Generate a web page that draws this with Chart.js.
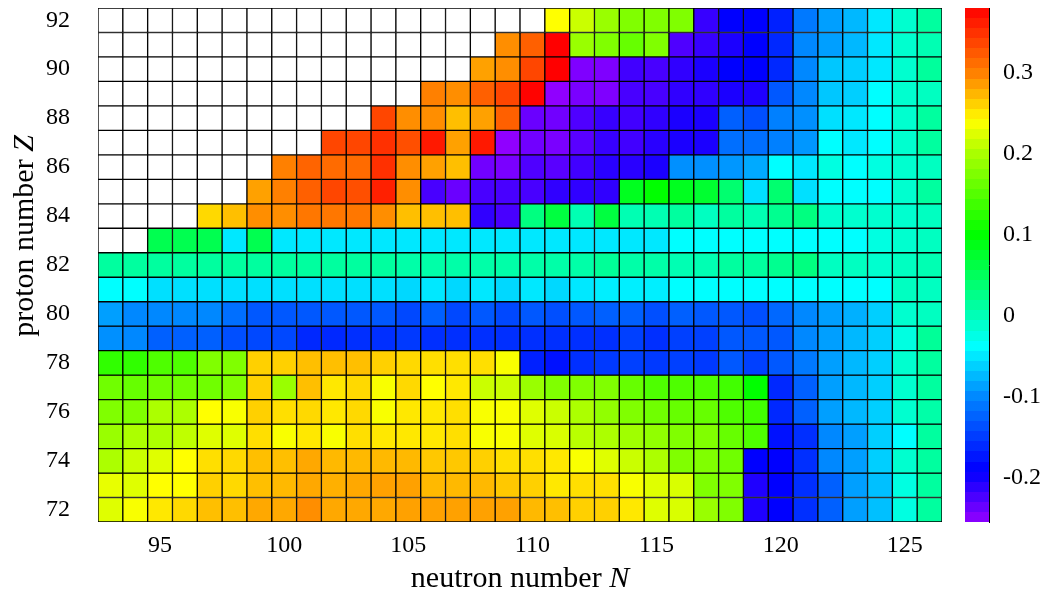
<!DOCTYPE html>
<html>
<head>
<meta charset="utf-8">
<script src="https://cdn.jsdelivr.net/npm/chart.js@4.4.0/dist/chart.umd.min.js"></script>
<style>
  html, body { margin: 0; padding: 0; background: #fff; }
  #wrap { position: relative; width: 1047px; height: 596px; }
  #heat { position: absolute; left: 0; top: 0; }
  #cbar { position: absolute; left: 950px; top: 0; }
</style>
</head>
<body>
<div id="wrap">
  <canvas id="heat" width="1047" height="596"></canvas>
  <canvas id="cbar" width="97" height="596"></canvas>
</div>
<script>
// ─── Data ─────────────────────────────────────────────────
const neutrons = [93, 94, 95, 96, 97, 98, 99, 100, 101, 102, 103, 104, 105, 106, 107, 108, 109,
                  110, 111, 112, 113, 114, 115, 116, 117, 118, 119, 120, 121, 122, 123, 124, 125, 126];
const protons  = [92, 91, 90, 89, 88, 87, 86, 85, 84, 83, 82, 81, 80, 79, 78, 77, 76, 75, 74, 73, 72];

// one row per proton number, columns follow `neutrons` (null = no value)
const z92 = [null, null, null, null, null, null, null, null, null, null,
             null, null, null, null, null, null, null, null, 0.24, 0.215,
             0.19, 0.175, 0.175, 0.175, -0.216, -0.189, -0.189, -0.168, -0.11, -0.088,
             -0.075, -0.05, -0.013, 0.013];
const z91 = [null, null, null, null, null, null, null, null, null, null,
             null, null, null, null, null, null, 0.293, 0.32, 0.38, 0.19,
             0.175, 0.16, 0.175, -0.226, -0.216, -0.204, -0.189, -0.163, -0.10, -0.088,
             -0.075, -0.05, -0.013, 0.002];
const z90 = [null, null, null, null, null, null, null, null, null, null,
             null, null, null, null, null, 0.284, 0.293, 0.336, 0.38, -0.246,
             -0.246, -0.22, -0.223, -0.213, -0.204, -0.189, -0.189, -0.163, -0.10, -0.067,
             -0.063, -0.05, -0.013, 0.015];
const z89 = [null, null, null, null, null, null, null, null, null, null,
             null, null, null, 0.30, 0.293, 0.32, 0.336, 0.378, -0.253, -0.244,
             -0.246, -0.223, -0.223, -0.213, -0.213, -0.204, -0.206, -0.131, -0.10, -0.067,
             -0.063, -0.038, -0.013, -0.005];
const z88 = [null, null, null, null, null, null, null, null, null, null,
             null, 0.336, 0.293, 0.293, 0.27, 0.284, 0.32, -0.237, -0.24, -0.226,
             -0.216, -0.22, -0.213, -0.204, -0.204, -0.126, -0.137, -0.105, -0.096, -0.054,
             -0.05, -0.038, -0.013, 0.013];
const z87 = [null, null, null, null, null, null, null, null, null, 0.336,
             0.336, 0.35, 0.33, 0.364, 0.284, 0.364, -0.253, -0.24, -0.244, -0.23,
             -0.216, -0.22, -0.21, -0.204, -0.204, -0.116, -0.116, -0.105, -0.092, -0.038,
             -0.05, -0.038, -0.013, 0.013];
const z86 = [null, null, null, null, null, null, null, 0.30, 0.317, 0.313,
             0.313, 0.35, 0.293, 0.284, 0.27, -0.24, -0.244, -0.226, -0.23, -0.22,
             -0.21, -0.21, -0.204, -0.096, -0.096, -0.092, -0.082, -0.038, -0.05, -0.022,
             -0.038, -0.022, -0.013, -0.005];
const z85 = [null, null, null, null, null, null, 0.284, 0.30, 0.32, 0.336,
             0.33, 0.36, 0.293, -0.223, -0.237, -0.223, -0.223, -0.223, -0.213, -0.213,
             -0.213, 0.083, 0.10, 0.083, 0.074, 0.039, -0.054, 0.039, -0.054, -0.038,
             -0.038, -0.038, -0.013, 0.013];
const z84 = [null, null, null, null, 0.258, 0.27, 0.293, 0.293, 0.305, 0.305,
             0.305, 0.293, 0.27, 0.27, 0.27, -0.213, -0.223, 0.03, 0.065, 0.002,
             0.065, 0.002, 0.002, 0.013, -0.005, 0.013, 0.002, 0.021, 0.03, -0.013,
             -0.013, -0.013, -0.013, -0.005];
const z83 = [null, null, 0.056, 0.056, 0.056, -0.05, 0.056, -0.05, -0.05, -0.05,
             -0.05, -0.05, -0.05, -0.05, -0.05, -0.05, -0.05, -0.05, -0.05, -0.05,
             -0.05, -0.05, -0.05, -0.038, -0.038, -0.038, -0.038, -0.038, -0.038, -0.038,
             -0.038, -0.022, -0.013, -0.005];
const z82 = [0.013, 0.013, 0.013, 0.013, 0.013, 0.013, 0.013, 0.013, 0.013, 0.013,
             0.013, 0.013, 0.008, 0.008, 0.008, 0.008, 0.008, 0.008, 0.008, 0.008,
             0.017, 0.008, 0.008, 0.002, 0.002, 0.013, 0.013, 0.021, 0.03, -0.005,
             -0.005, -0.013, -0.005, 0.002];
const z81 = [-0.038, -0.038, -0.054, -0.054, -0.054, -0.054, -0.054, -0.054, -0.054, -0.054,
             -0.054, -0.054, -0.058, -0.05, -0.058, -0.05, -0.058, -0.05, -0.058, -0.05,
             -0.046, -0.046, -0.046, -0.038, -0.038, -0.038, -0.038, -0.038, -0.038, -0.038,
             -0.038, -0.038, -0.005, -0.005];
const z80 = [-0.088, -0.10, -0.10, -0.10, -0.10, -0.116, -0.131, -0.131, -0.131, -0.131,
             -0.131, -0.131, -0.142, -0.126, -0.142, -0.131, -0.142, -0.131, -0.137, -0.131,
             -0.126, -0.126, -0.137, -0.126, -0.131, -0.131, -0.137, -0.121, -0.10, -0.088,
             -0.079, -0.063, -0.013, -0.005];
const z79 = [-0.096, -0.10, -0.126, -0.126, -0.126, -0.137, -0.142, -0.142, -0.163, -0.163,
             -0.158, -0.158, -0.152, -0.158, -0.158, -0.158, -0.158, -0.158, -0.158, -0.158,
             -0.158, -0.147, -0.158, -0.147, -0.147, -0.131, -0.131, -0.131, -0.10, -0.088,
             -0.075, -0.063, -0.022, 0.017];
const z78 = [0.128, 0.128, 0.146, 0.146, 0.175, 0.175, 0.262, 0.262, 0.27, 0.27,
             0.27, 0.262, 0.258, 0.255, 0.255, 0.255, 0.237, -0.168, -0.178, -0.158,
             -0.152, -0.147, -0.152, -0.147, -0.152, -0.131, -0.147, -0.131, -0.11, -0.088,
             -0.075, -0.063, -0.013, 0.013];
const z77 = [0.166, 0.16, 0.166, 0.166, 0.166, 0.175, 0.262, 0.19, 0.27, 0.251,
             0.258, 0.237, 0.258, 0.24, 0.251, 0.215, 0.215, 0.19, 0.175, 0.175,
             0.175, 0.16, 0.146, 0.146, 0.146, 0.138, 0.10, -0.163, -0.126, -0.088,
             -0.075, -0.063, -0.013, 0.013];
const z76 = [0.175, 0.175, 0.201, 0.201, 0.24, 0.237, 0.262, 0.255, 0.258, 0.251,
             0.258, 0.237, 0.251, 0.251, 0.255, 0.237, 0.237, 0.225, 0.215, 0.201,
             0.185, 0.175, 0.166, 0.16, 0.16, 0.146, 0.138, -0.163, -0.126, -0.088,
             -0.075, -0.063, -0.013, 0.008];
const z75 = [0.19, 0.201, 0.201, 0.21, 0.225, 0.225, 0.255, 0.237, 0.251, 0.237,
             0.255, 0.251, 0.251, 0.251, 0.255, 0.237, 0.237, 0.225, 0.222, 0.207,
             0.201, 0.194, 0.185, 0.175, 0.175, 0.16, 0.146, -0.178, -0.158, -0.10,
             -0.088, -0.063, -0.038, 0.013];
const z74 = [0.201, 0.215, 0.225, 0.24, 0.255, 0.258, 0.27, 0.27, 0.281, 0.273,
             0.273, 0.273, 0.273, 0.266, 0.266, 0.262, 0.255, 0.255, 0.251, 0.237,
             0.225, 0.215, 0.201, 0.175, 0.175, 0.166, -0.189, -0.189, -0.158, -0.10,
             -0.088, -0.063, -0.013, 0.013];
const z73 = [0.229, 0.225, 0.24, 0.24, 0.262, 0.258, 0.27, 0.273, 0.281, 0.277,
             0.281, 0.284, 0.284, 0.273, 0.273, 0.273, 0.266, 0.262, 0.251, 0.255,
             0.255, 0.237, 0.225, 0.222, 0.175, 0.175, -0.206, -0.189, -0.158, -0.126,
             -0.088, -0.071, -0.022, 0.013];
const z72 = [0.225, 0.237, 0.251, 0.258, 0.27, 0.27, 0.281, 0.281, 0.293, 0.281,
             0.281, 0.281, 0.284, 0.284, 0.284, 0.284, 0.284, 0.273, 0.27, 0.262,
             0.262, 0.251, 0.225, 0.222, 0.19, 0.175, -0.206, -0.189, -0.158, -0.126,
             -0.088, -0.071, -0.022, 0.013];

const rows = [z92, z91, z90, z89, z88, z87, z86, z85, z84, z83, z82,
              z81, z80, z79, z78, z77, z76, z75, z74, z73, z72];

const zTicks    = [72, 74, 76, 78, 80, 82, 84, 86, 88, 90, 92];
const nTicks    = [95, 100, 105, 110, 115, 120, 125];
const cbarTicks = [0.3, 0.2, 0.1, 0, -0.1, -0.2];
const cbarMin = -0.255;
const cbarMax = 0.38;

// ─── Colour map (red → purple hue sweep) ─────────────────
const cmapStops = [0.38, 0.3, 0.2, 0.1, 0, -0.1, -0.2, -0.255];
const cmapHues  = [0, 30, 80, 120, 163, 208, 244, 275];

function colorFor(v) {
  if (v === null || v === undefined) return '#ffffff';
  let h = cmapHues[cmapHues.length - 1];
  if (v >= cmapStops[0]) {
    h = 0;
  } else {
    for (let i = 1; i < cmapStops.length; i++) {
      if (v >= cmapStops[i]) {
        const t = (cmapStops[i - 1] - v) / (cmapStops[i - 1] - cmapStops[i]);
        h = cmapHues[i - 1] + t * (cmapHues[i] - cmapHues[i - 1]);
        break;
      }
    }
  }
  return `hsl(${h.toFixed(1)},100%,50%)`;
}

const FONT = '"Liberation Serif", "Times New Roman", serif';
const TICK_SIZE  = 24;
const TITLE_SIZE = 30;

// keep the plot box where it is: no extra room for half tick labels
function fixBox(width, height) {
  return (s) => {
    if (width !== null) s.width = width;
    if (height !== null) s.height = height;
    s.paddingTop = 0;
    s.paddingBottom = 0;
    s.paddingLeft = 0;
    s.paddingRight = 0;
  };
}

// axis titles with an italic symbol at the end
function drawTitle(ctx, plain, symbol, cx, cy, size) {
  ctx.font = `${size}px ${FONT}`;
  const w1 = ctx.measureText(plain).width;
  ctx.font = `italic ${size}px ${FONT}`;
  const w2 = ctx.measureText(symbol).width;
  const x0 = cx - (w1 + w2) / 2;
  ctx.textAlign = 'left';
  ctx.textBaseline = 'alphabetic';
  ctx.font = `${size}px ${FONT}`;
  ctx.fillText(plain, x0, cy);
  ctx.font = `italic ${size}px ${FONT}`;
  ctx.fillText(symbol, x0 + w1, cy);
}

const axisTitles = {
  id: 'axisTitles',
  afterDraw(chart) {
    const { ctx, chartArea } = chart;
    ctx.save();
    ctx.fillStyle = '#000';
    drawTitle(ctx, 'neutron number ', 'N', (chartArea.left + chartArea.right) / 2, 587, TITLE_SIZE);
    ctx.translate(33, 236);
    ctx.rotate(-Math.PI / 2);
    drawTitle(ctx, 'proton number ', 'Z', 0, 0, TITLE_SIZE);
    ctx.restore();
  }
};

// ─── Heat map (one floating-bar dataset per proton row) ───
new Chart(document.getElementById('heat'), {
  type: 'bar',
  data: {
    labels: neutrons,
    datasets: protons.map((z, i) => ({
      label: 'Z = ' + z,
      data: neutrons.map(() => [z - 0.5, z + 0.5]),
      backgroundColor: (c) => colorFor(rows[i][c.dataIndex]),
      borderColor: '#000',
      borderWidth: 1,
      borderSkipped: false,
      grouped: false,
      barPercentage: 1,
      categoryPercentage: 1,
    })),
  },
  options: {
    responsive: false,
    animation: false,
    layout: { autoPadding: false, padding: { left: 0, right: 105, top: 8, bottom: 0 } },
    plugins: { legend: { display: false }, tooltip: { enabled: false } },
    scales: {
      x: {
        type: 'category',
        grid: { display: false, drawTicks: false },
        border: { display: false },
        ticks: {
          autoSkip: false,
          maxRotation: 0,
          padding: 9,
          color: '#000',
          font: { family: FONT, size: TICK_SIZE },
          callback: (val, idx) => nTicks.includes(neutrons[idx]) ? String(neutrons[idx]) : '',
        },
        afterFit: fixBox(null, 74),
      },
      y: {
        type: 'linear',
        min: 71.5,
        max: 92.5,
        grid: { display: false, drawTicks: false },
        border: { display: false },
        afterBuildTicks: (s) => { s.ticks = zTicks.map(v => ({ value: v })); },
        ticks: { padding: 28, color: '#000', font: { family: FONT, size: TICK_SIZE } },
        afterFit: fixBox(98, null),
      },
    },
  },
  plugins: [axisTitles],
});

// ─── Colour bar ───────────────────────────────────────────
function barGradient(c) {
  const chart = c.chart;
  if (!chart.chartArea) return 'transparent';
  const ys = chart.scales.y;
  const g = chart.ctx.createLinearGradient(0, ys.getPixelForValue(cbarMax), 0, ys.getPixelForValue(cbarMin));
  const bands = 51;
  const w = (cbarMax - cbarMin) / bands;
  for (let k = 0; k < bands; k++) {
    const col = colorFor(cbarMax - (k + 0.5) * w);
    g.addColorStop(k / bands, col);
    g.addColorStop((k + 1) / bands, col);
  }
  return g;
}

new Chart(document.getElementById('cbar'), {
  type: 'bar',
  data: {
    labels: [''],
    datasets: [{
      data: [[cbarMin, cbarMax]],
      backgroundColor: barGradient,
      borderWidth: 0,
      barPercentage: 1,
      categoryPercentage: 1,
    }],
  },
  options: {
    responsive: false,
    animation: false,
    layout: { autoPadding: false, padding: { left: 15, right: 0, top: 8, bottom: 74 } },
    plugins: { legend: { display: false }, tooltip: { enabled: false } },
    scales: {
      x: { display: false },
      y: {
        position: 'right',
        min: cbarMin,
        max: cbarMax,
        z: 1,
        afterBuildTicks: (s) => { s.ticks = cbarTicks.map(v => ({ value: v })); },
        grid: { color: '#000', lineWidth: 1, drawTicks: false },
        border: { display: true, color: '#000' },
        ticks: {
          padding: 14,
          color: '#000',
          font: { family: FONT, size: TICK_SIZE },
          callback: (v) => String(v),
        },
        afterFit: fixBox(58, null),
      },
    },
  },
});
</script>
</body>
</html>
